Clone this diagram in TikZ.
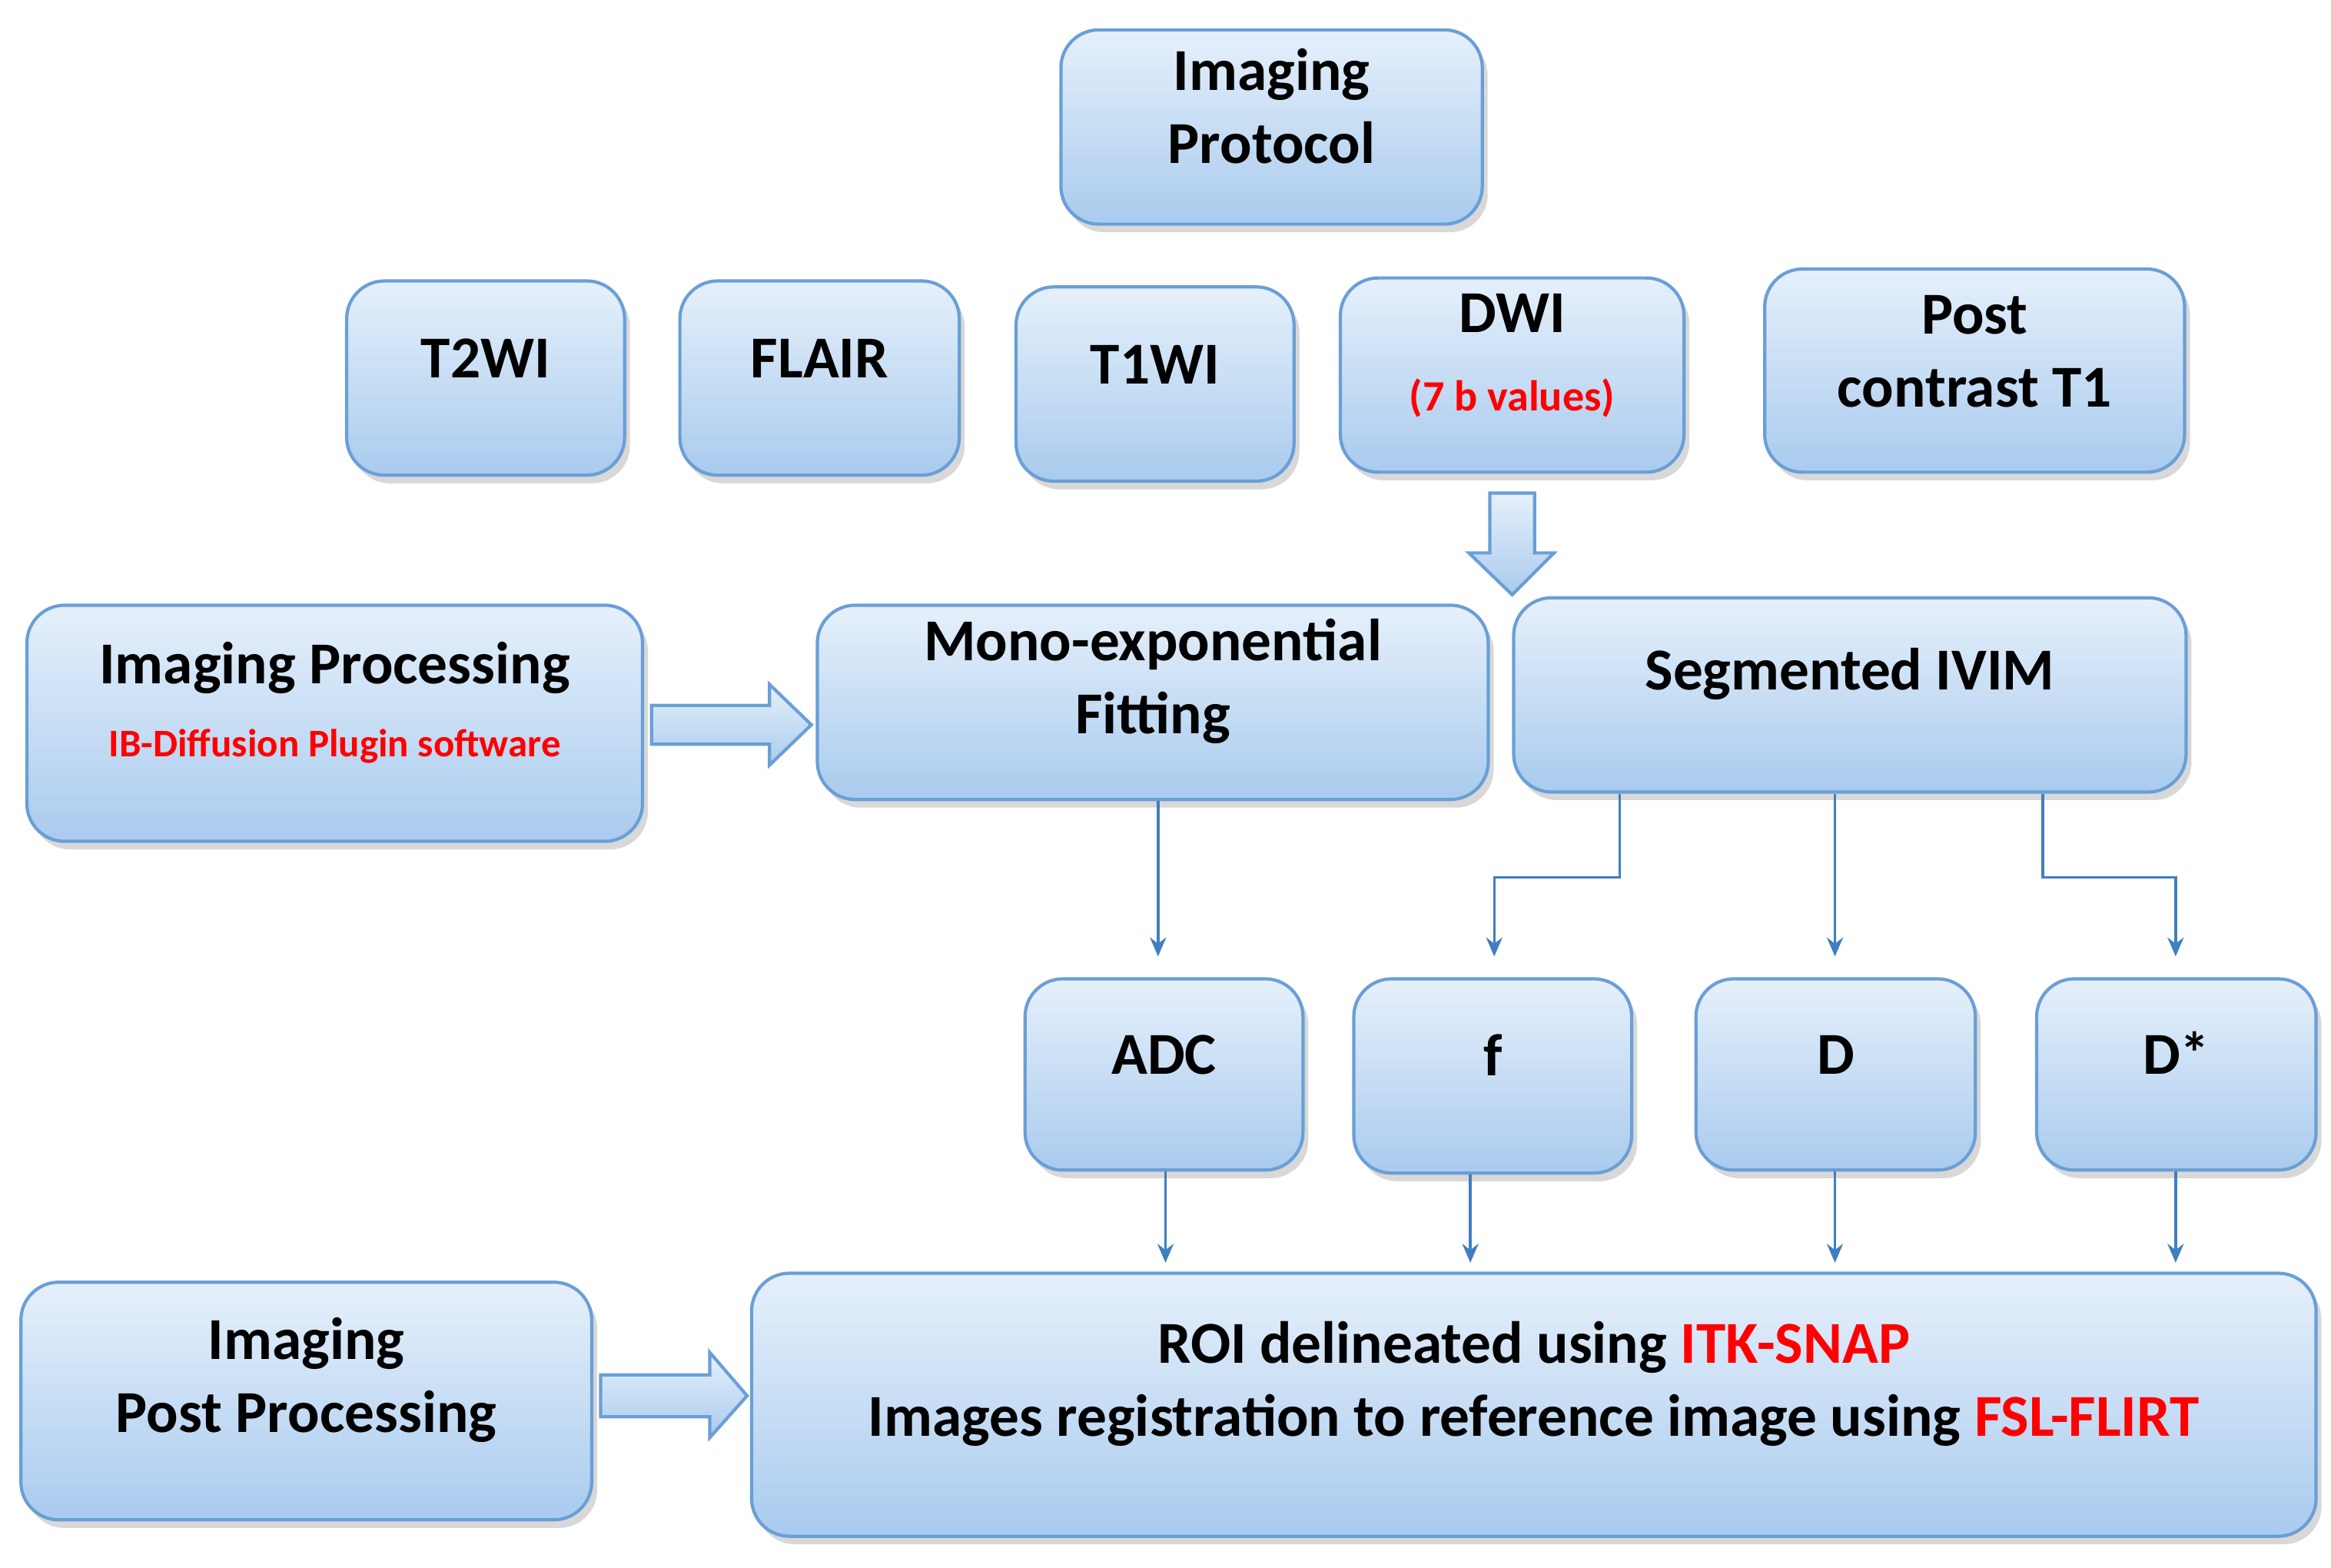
\documentclass[tikz,border=0pt]{standalone}
\usepackage{fontspec}
\setmainfont{Carlito}
\usetikzlibrary{fit,shadows,arrows.meta}
\definecolor{edge}{HTML}{6A9FD6}
\definecolor{topc}{HTML}{E6F0FB}
\definecolor{botc}{HTML}{A9CBEE}
\definecolor{line}{HTML}{3F7FC0}
\begin{document}
\begin{tikzpicture}[x=0.01944cm,y=-0.01944cm,
  box/.style={draw=edge, line width=1.2pt, rounded corners=14pt, top color=topc, bottom color=botc,
    drop shadow={shadow xshift=2pt,shadow yshift=-3pt,fill=gray!60}, inner sep=0pt, align=center,
    font=\fontsize{22}{27}\selectfont\bfseries},
  red/.style={text=red},
  conn/.style={draw=line, line width=1pt, -{Stealth[length=7pt,width=6pt]}},
  barrow/.style={draw=edge, line width=1.2pt, top color=topc, bottom color=botc}]
\useasboundingbox (0,0) rectangle (1560,1049);
\node[box, fit={(710,20)(992,150)}] (prot) {Imaging\\Protocol};
\node[box, fit={(232,188)(418,318)}] (t2) {T2WI};
\node[box, fit={(455,188)(642,318)}] (flair) {FLAIR};
\node[box, fit={(680,192)(866,322)}] (t1) {T1WI};
\node[box, fit={(897,186)(1127,316)}] (dwi) {DWI\\[2pt]{\fontsize{16}{20}\selectfont\color{red}(7 b values)}};
\node[box, fit={(1181,180)(1462,316)}] (post) {Post\\contrast T1};
\node[box, fit={(18,405)(430,563)}] (proc) {Imaging Processing\\{\fontsize{14.5}{18}\selectfont\color{red}IB-Diffusion Plugin software}};
\node[box, fit={(547,405)(996,535)}] (mono) {Mono-exponential\\Fitting};
\node[box, fit={(1013,400)(1463,530)}] (ivim) {Segmented IVIM};
\node[box, fit={(686,655)(872,783)}] (adc) {ADC};
\node[box, fit={(906,655)(1092,785)}] (f) {f};
\node[box, fit={(1135,655)(1322,783)}] (d) {D};
\node[box, fit={(1363,655)(1550,783)}] (ds) {D*};
\node[box, fit={(14,858)(396,1017)}] (pp) {Imaging\\Post Processing};
\node[box, fit={(503,852)(1550,1028)}] (roi) {ROI delineated using {\color{red}ITK-SNAP}\\Images registration to reference image using {\color{red}FSL-FLIRT}};
% block arrows
\path[barrow] (997,330)--(1027,330)--(1027,370)--(1040,370)--(1012,398)--(983,370)--(997,370)--cycle;
\path[barrow] (436,472)--(515,472)--(515,458)--(543,485)--(515,512)--(515,498)--(436,498)--cycle;
\path[barrow] (402,920)--(475,920)--(475,905)--(500,934)--(475,962)--(475,948)--(402,948)--cycle;
% connectors
\draw[conn] (mono.south -| 775,0) -- (775,640);
\draw[conn] (ivim.south -| 1084,0) -- (1084,587) -- (1000,587) -- (1000,640);
\draw[conn] (ivim.south -| 1228,0) -- (1228,640);
\draw[conn] (ivim.south -| 1367,0) -- (1367,587) -- (1456,587) -- (1456,640);
\draw[conn] (adc.south -| 780,0) -- (780,845);
\draw[conn] (f.south -| 984,0) -- (984,845);
\draw[conn] (d.south -| 1228,0) -- (1228,845);
\draw[conn] (ds.south -| 1456,0) -- (1456,845);
\end{tikzpicture}
\end{document}
